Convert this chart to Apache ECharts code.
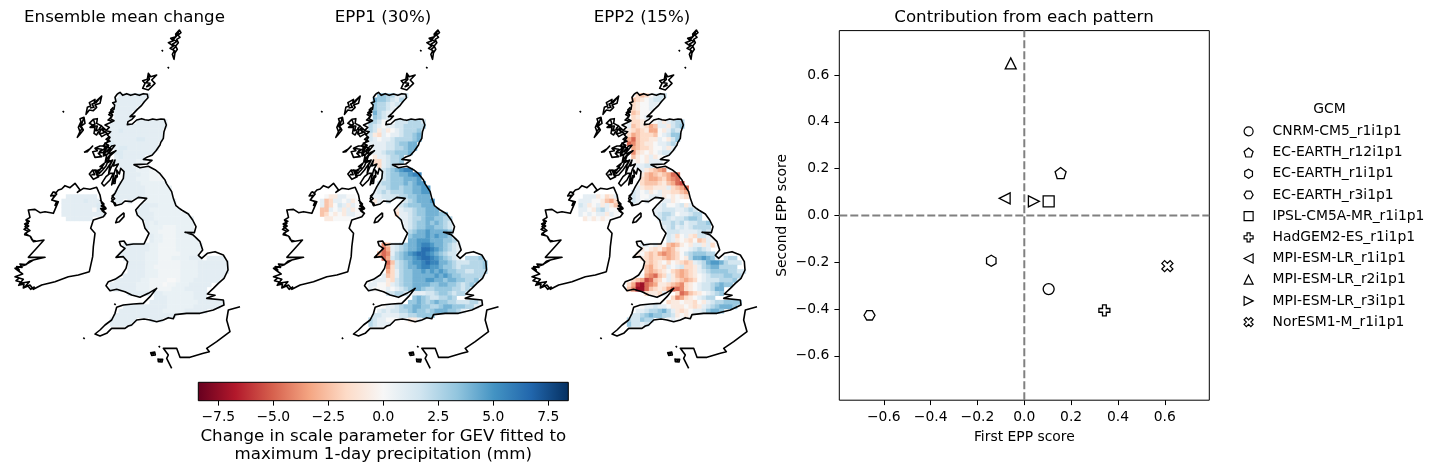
<!DOCTYPE html>
<html><head><meta charset="utf-8">
<script src="https://cdn.jsdelivr.net/npm/echarts@6/dist/echarts.min.js"></script>
<style>html,body{margin:0;padding:0;background:#fff}#c{width:1440px;height:472px}</style></head>
<body><div id="c"></div>
<script>
// ---- scatter data (first EPP score, second EPP score) ----
const gcmNames = ["CNRM-CM5_r1i1p1","EC-EARTH_r12i1p1","EC-EARTH_r1i1p1","EC-EARTH_r3i1p1","IPSL-CM5A-MR_r1i1p1","HadGEM2-ES_r1i1p1","MPI-ESM-LR_r1i1p1","MPI-ESM-LR_r2i1p1","MPI-ESM-LR_r3i1p1","NorESM1-M_r1i1p1"];
const firstScore  = [0.104,0.155,-0.141,-0.661,0.104,0.342,-0.084,-0.058,0.041,0.611];
const secondScore = [-0.315,0.181,-0.194,-0.427,0.06,-0.406,0.073,0.65,0.06,-0.217];
const scoreTicks = [-0.6,-0.4,-0.2,0,0.2,0.4,0.6];
const colorbarTicks = [-7.5,-5,-2.5,0,2.5,5,7.5];
const rdBu = ["#67001f","#b2182b","#d6604d","#f4a582","#fddbc7","#f7f7f7","#d1e5f0","#92c5de","#4393c3","#2166ac","#053061"];

// digits are positive, letters a.. are negative, in units of the map's step ----
const meanStep = 0.3, eppStep = 0.8;
const meanRows = [
"13:3333433","12:3333333","12:3333333","12:333332","12:33333","12:3333",
"11:3333333333333","11:3333333333333","11:3343333333333","10:33333333333333","11:3333334433333","10:3433333333332",
"12:34433333333","11:34433333333","12:343333333","12:3333322","12:33332","13:33332221",
"14:333322110","13:33332221111","13:33333222222","13:333333222222","12:3333333222222","1:3333333 12:33333332222222",
"0:333334333 12:33333332222222","0:333333334 12:3333 17:2333322222","0:3333333042 17:33322222222","0:3333333333 17:333322222222","1:333333 17:3333222222222","18:3323222222222",
"19:322211122222","19:322111122222","20:32211122222","20:32211122222","14:333333221111222222","14:333333221111222222",
"13:3333332221111122222","14:333332221112222333 33:3333","15:33332221111122223333333","15:33332211111122223333333","15:33332221111122223333333","14:333332221111122223333333",
"12:3333332211110012223333333","10:333333322211101122233333","10:33333332221111122233333","14:33333333 22:322222223333","17:333 21:333222222333","20:33332222222333333333",
"14:33333333332222223333333333","13:33333333332222233333","12:33333333333333322233","11:33333333333333","10:333333333333","10:333333","8:33333"];
const epp1Rows = [
"13:4433112","12:5443213","12:4332123","12:433212","12:53211","12:4321",
"11:3320012223332","11:3210112233333","11:32a1a01233343","10:22ab1011233453","11:2101123333454","10:a111122344555",
"12:11122334556","11:a1123344456","12:a11233445","12:bb12334","12:cb123","13:b2345677",
"14:234455677","13:22344455567","13:23344454566","13:223443445566","12:1232333445566","1:0aa1100 12:11222233445556",
"0:1cb1101a0 12:a1221222345556","0:1cb021a10 12:a111 17:1234445556","0:cc101a1a01 17:a1223445556","0:cb0a0a1100 17:b11234455544","1:aa0000 17:a112334554433","18:a123445454321",
"19:123445544321","19:234556555543","20:45556565543","20:55666555443","14:ec1234556776554321","14:fd1234556887654321",
"13:dfe1345678876543221","14:fd2345567887654321 33:3334","15:fc234566787755432223334","15:eb234556776654432333334","15:db134455656565443322333","14:1cb134455555656544333332",
"12:111ab234455566554554433423","10:11100a12344555544554432343","10:210001012345543344443323","14:12233221 22:11223443233","17:234 21:4543223343","20:44543454433222331000",
"14:01123445544334554443311000","13:1212233454434555443100","12:2211112233444433433","11:32110011baa1211223","10:432111b1a121","10:342101","8:32233"];
const epp2Rows = [
"13:bcb0122","12:cba0122","12:ba00112","12:ba0011","12:cb001","12:ba01",
"11:1bbaba01a1233","11:1cbabdc11a234","11:abcbadd0a1323","10:0bdcbbbc012443","11:dfcbbaa10a243","10:1fecbaa011232",
"12:dcbba001a12","11:ceba0a01221","12:ca0a1a011","12:0a0a111","12:01122","13:11abcde0",
"14:acdcbcdffg","13:0bcddcbdefgh","13:0bcccbacdfgf","13:1abbaaa1bcdf","12:2101a01aabbcd","1:111a0ba1 12:2100111a0a0ab",
"0:11100acdb 12:211101011a0","0:21a01a1ac 12:2110 17:1120012a1","0:110a23100 17:1122211232","0:101011a10 17:12332011233","1:a0a0a0 17:12321223443","18:1223231223342",
"19:123121233332","19:122211112321","20:21b01ab221","20:21a0ab0cb10","14:1101a0cdca0a11a1b0","14:a0abacdca0012321",
"13:a0bcbdedcb0234443322","14:abcbbcdcb0a3556541 33:233","15:bcba0b0abcb12356653222","15:cdbab1012bba134553333","15:cdcba0bcdcba12344443322","14:0defcb1acdcba0123334433",
"12:bcdgfcb01abcdcb01222333433","10:0bdhifedaabcdeba0122345443","10:1ceiifcbabdffeba0122355","14:cbaab10 22:bfecba012345","17:a01 21:bedba01233","20:baa0aab0a123344443222",
"14:0112110aaa0aba12345554322","13:112334531aba011245543","12:2234544332a0a01233","11:322433211010011","10:34221221100","10:342101","8:12101"];

// ---- coastlines, in map units (rows and columns of the map sheet) ----
const coastGB = [[352,222],[360,217],[368,226],[380,221],[392,226],[405,222],[418,226],[430,221],[442,223],[444,233],[433,245],[425,256],[412,268],[400,281],[390,290],[405,288],[396,298],[384,305],[382,314],[397,312],[410,300],[425,296],[435,299],[445,301],[458,297],[470,299],[483,297],[493,298],[499,315],[492,335],[491,345],[490,355],[482,368],[480,375],[468,392],[456,406],[442,411],[430,418],[456,421],[442,432],[420,433],[402,434],[420,443],[445,439],[465,449],[480,461],[495,480],[499,490],[505,495],[515,515],[520,535],[528,557],[538,565],[545,570],[565,582],[578,600],[588,620],[583,638],[555,637],[578,644],[587,652],[600,665],[608,690],[595,706],[605,715],[622,700],[645,695],[670,705],[682,725],[684,750],[672,775],[655,790],[640,805],[622,822],[645,826],[620,835],[670,840],[672,855],[640,870],[600,880],[560,880],[525,884],[520,896],[505,893],[490,900],[470,905],[450,900],[432,897],[410,900],[395,915],[385,918],[375,925],[350,925],[335,925],[320,940],[300,948],[285,942],[300,930],[315,915],[335,900],[345,880],[350,862],[370,855],[400,852],[430,850],[450,830],[470,805],[445,820],[420,832],[395,825],[375,815],[350,808],[330,812],[318,797],[325,785],[345,778],[365,765],[378,745],[383,725],[370,710],[348,712],[365,695],[375,685],[362,677],[358,665],[372,663],[380,675],[400,672],[432,672],[440,655],[447,640],[435,625],[428,600],[412,585],[407,570],[420,555],[440,535],[415,532],[395,545],[375,543],[365,552],[345,557],[335,535],[345,520],[355,500],[370,475],
[372,455],[362,445],[358,462],[350,450],[352,470],[342,480],[335,495],[340,470],[346,448],[355,432],[340,438],[345,420],[332,445],[326,460],[330,435],[338,420],[322,428],[330,408],[348,392],[335,398],[322,415],[316,425],[320,405],[332,392],[345,376],[335,378],[322,392],[310,398],[318,382],[308,378],[320,368],[330,352],[322,345],[332,335],[318,332],[328,322],[315,315],[330,308],[342,302],[330,295],[338,285],[328,278],[342,268],[336,262],[344,255],[338,248],[348,245],[345,232],[352,222]];
const coastIreland = [[160,515],[168,518],[175,510],[185,507],[195,497],[210,503],[225,490],[240,510],[232,517],[250,505],[270,508],[290,502],[300,525],[305,550],[318,565],[302,566],[318,580],[310,590],[280,600],[272,625],[285,640],[280,680],[278,710],[268,755],[235,765],[205,770],[165,785],[125,795],[100,808],[90,795],[75,800],[88,785],[60,790],[70,778],[45,770],[68,762],[45,745],[75,735],[100,720],[135,712],[85,712],[105,690],[132,660],[100,665],[92,650],[75,640],[90,632],[75,620],[85,610],[78,600],[90,592],[85,570],[105,568],[120,578],[135,575],[160,580],[175,545],[155,540],[170,522],[160,515]];
const coastFrance = [[720,860],[685,870],[680,900],[690,935],[650,965],[620,985],[628,995],[610,1000],[570,1012],[540,1012],[530,985],[490,985],[505,1005],[500,1015],[515,1045]];
const coastLewis = [[305,228],[300,250],[285,255],[290,262],[280,272],[268,270],[258,283],[262,262],[272,258],[268,248],[285,238],[282,250],[292,240],[305,228],[288,248],[276,252],[282,262],[270,264]];
const coastUist = [[252,292],[255,310],[243,318],[250,330],[238,345],[232,352],[240,335],[235,322],[243,305],[240,296],[252,292],[246,310],[240,318],[246,326],[238,336]];
const coastSkye = [[280,298],[292,296],[290,310],[305,318],[298,325],[322,340],[305,350],[295,335],[290,345],[282,340],[285,322],[270,322],[278,315],[268,310],[280,298],[285,312],[275,318],[292,318],[288,332],[302,328],[298,342],[312,338],[306,326],[318,330],[302,316]];
const coastMull = [[285,385],[300,378],[325,378],[315,392],[330,398],[310,408],[318,395],[295,400],[305,410],[285,412],[278,395],[292,392],[285,385],[305,388],[298,396],[315,385],[310,402],[322,392],[335,388],[322,380]];
const coastJura = [[325,420],[335,425],[318,450],[305,465],[292,468],[285,450],[298,452],[312,432],[300,440],[325,420],[318,438],[308,450],[298,460],[292,452],[310,442]];
const coastIslay = [[278,450],[290,452],[296,470],[280,478],[268,462],[278,450],[284,464],[274,464]];
const coastKintyre = [[330,460],[340,460],[330,480],[312,498],[305,490],[318,470],[330,460]];
const coastTiree = [[252,397],[272,385],[278,378],[262,395],[252,397]];
const coastArran = [[348,465],[354,468],[345,490],[338,490],[348,465]];
const coastMan = [[372,578],[372,590],[358,605],[347,608],[352,595],[372,578]];
const coastShetland = [[538,30],[543,38],[534,45],[540,52],[530,58],[535,68],[527,78],[532,88],[525,98],[522,118],[517,103],[523,92],[510,85],[520,78],[505,68],[520,62],[512,55],[528,50],[527,42],[538,30],[530,48],[520,58],[530,65],[518,72],[528,80],[518,88],[526,95]];
const coastOrkney = [[445,160],[452,170],[470,165],[455,180],[465,190],[445,210],[428,205],[435,190],[428,182],[442,178],[445,160],[448,178],[438,188],[450,190],[440,200],[452,195]];
const coastChannelIsles = [[452,998],[464,996],[466,1005],[455,1006],[452,998],[462,1002]];
const coastJersey = [[474,1017],[488,1018],[486,1026],[475,1025],[474,1017],[484,1022]];
const inletsKerry = [[45,770],[58,774],[48,782],[62,786],[56,796],[72,792],[70,804],[84,798],[92,808],[104,800]];
const inletsMayo = [[78,600],[88,604],[74,612],[86,618],[72,628],[84,634],[74,644],[90,648],[96,660],[108,664]];
const inletsClare = [[45,745],[58,750],[50,740],[66,742],[60,732],[78,734],[88,724],[100,720]];
const inletsDonegal = [[160,515],[152,528],[164,526],[156,540],[170,545],[165,556],[174,548]];
const inletsAntrim = [[300,540],[312,552],[304,558],[318,566],[306,572],[318,582]];
const inletsSutherland = [[340,262],[332,270],[340,276],[326,284],[336,290],[324,300],[336,304]];
const inletsLochaber = [[328,350],[318,358],[330,364],[314,370],[326,376],[312,384]];
const inletsGalloway = [[345,520],[336,528],[344,536],[334,544],[346,550],[352,545],[348,558]];
const coastSpecks = [[190,275],[487,92],[505,143],[252,955],[345,853],[478,980]];
const coastlines = [coastGB,coastIreland,coastFrance,coastLewis,coastUist,coastSkye,coastMull,coastJura,coastIslay,coastKintyre,coastTiree,coastArran,coastMan,coastShetland,coastOrkney,coastChannelIsles,coastJersey,inletsKerry,inletsMayo,inletsClare,inletsDonegal,inletsAntrim,inletsSutherland,inletsLochaber,inletsGalloway];

const FONT = "DejaVu Sans";
const minus = s => String(s).replace("-", "\u2212");
const CELL = 4.4, COLS = 38, ROWS = 55;
const X0 = 185, Y0 = 220, UNIT = 13.2;
const inside = (x,y,poly) => {
  let c = false;
  for (let i=0,j=poly.length-1;i<poly.length;j=i++) {
    const [xi,yi]=poly[i],[xj,yj]=poly[j];
    if ((yi>y)!==(yj>y) && x < (xj-xi)*(y-yi)/(yj-yi)+xi) c=!c;
  }
  return c;
};
const decode = (rows, step) => {
  const out = [];
  rows.forEach((row, r) => row.split(" ").forEach(seg => {
    const [col, codes] = seg.split(":");
    if (!codes) return;
    [...codes].forEach((ch, i) => {
      const c = +col + i;
      const ux = X0 + UNIT*(c+0.5), uy = Y0 + UNIT*(r+0.5);
      if (!inside(ux,uy,c<=10 ? coastIreland : coastGB)) return;
      const isDigit = ch >= "0" && ch <= "9";
      const v = isDigit ? +ch : -(ch.charCodeAt(0) - 96);
      out.push([c, r, v * step]);
    });
  }));
  return out;
};
const coastData = () => {
  const d = [];
  coastlines.forEach(p => { p.forEach(q => d.push(q)); d.push(["-","-"]); });
  coastSpecks.forEach(q => { d.push([q[0]-2,q[1]-2],[q[0]+2,q[1]-2],[q[0]+2,q[1]+2],[q[0]-2,q[1]+2],[q[0]-2,q[1]-2]); d.push(["-","-"]); });
  return d;
};

const mapLefts = [0, 258.5, 517];
const mapTitles = ["Ensemble mean change","EPP1 (30%)","EPP2 (15%)"];
const mapRows = [[meanRows,meanStep],[epp1Rows,eppStep],[epp2Rows,eppStep]];
const idx = n => Array.from({length:n},(_,i)=>i);

const grid=[], xAxis=[], yAxis=[], series=[], title=[];
const hidden = {show:false};
mapLefts.forEach((x0,m)=>{
  grid.push({left:x0+X0/3, top:20+Y0/3, width:COLS*CELL, height:ROWS*CELL});
  xAxis.push({type:"category",gridIndex:m,data:idx(COLS),...hidden});
  yAxis.push({type:"category",gridIndex:m,data:idx(ROWS),inverse:true,...hidden});
  series.push({type:"heatmap",xAxisIndex:m,yAxisIndex:m,data:decode(mapRows[m][0],mapRows[m][1]),silent:true,progressive:0,animation:false,emphasis:{disabled:true}});
});
mapLefts.forEach((x0,m)=>{
  const g=3+m;
  grid.push({left:x0, top:20, width:250, height:350});
  xAxis.push({type:"value",gridIndex:g,min:0,max:750,...hidden});
  yAxis.push({type:"value",gridIndex:g,min:0,max:1050,inverse:true,...hidden});
  series.push({type:"line",xAxisIndex:g,yAxisIndex:g,data:coastData(),showSymbol:false,symbol:"none",connectNulls:false,clip:false,silent:true,animation:false,z:5,
    lineStyle:{color:"#000",width:1.6,join:"round"}});
  title.push({text:mapTitles[m],left:[119.5,378,637][m],top:4,textAlign:"center",textStyle:{fontFamily:FONT,fontSize:16.67,fontWeight:"normal",color:"#000"}});
});
// colorbar
grid.push({left:198.3,top:382.3,width:370,height:18.4,show:true,borderColor:"#000",borderWidth:1,backgroundColor:"transparent",z:6});
xAxis.push({type:"value",gridIndex:6,min:-8.41,max:8.41,splitLine:{show:false},
  axisLine:{show:false,onZero:false},
  axisTick:{show:true,length:4.9,lineStyle:{color:"#000",width:1},customValues:colorbarTicks},
  axisLabel:{fontFamily:FONT,fontSize:13.89,color:"#000",margin:10,customValues:colorbarTicks,formatter:v=>minus((+v).toFixed(1))},
  name:"Change in scale parameter for GEV fitted to\nmaximum 1-day precipitation (mm)",nameLocation:"middle",nameGap:27,
  nameTextStyle:{fontFamily:FONT,fontSize:16.67,color:"#000",lineHeight:18,verticalAlign:"top"}});
yAxis.push({type:"value",gridIndex:6,min:0,max:1,show:false});
series.push({type:"custom",xAxisIndex:6,yAxisIndex:6,data:[[-8.41,8.41]],silent:true,animation:false,
  renderItem:(p,api)=>{
    const a=api.coord([api.value(0),1]), b=api.coord([api.value(1),0]);
    return {type:"rect",shape:{x:a[0],y:a[1],width:b[0]-a[0],height:b[1]-a[1]},
      style:{fill:new echarts.graphic.LinearGradient(0,0,1,0,rdBu.map((c,i)=>({offset:i/(rdBu.length-1),color:c})))}};
  }});
// scatter
const S = 7;
grid.push({left:839.3,top:30.6,width:370,height:369.6,show:true,borderColor:"#000",borderWidth:1,backgroundColor:"transparent"});
const scoreAxis = (name,gap)=>({type:"value",gridIndex:S,min:-0.79,max:0.79,splitLine:{show:false},
  axisLine:{show:false,onZero:false},
  axisTick:{show:true,length:4.9,lineStyle:{color:"#000",width:1},customValues:scoreTicks},
  axisLabel:{fontFamily:FONT,fontSize:13.89,color:"#000",margin:10,customValues:scoreTicks,formatter:v=>minus((+v).toFixed(1))},
  name,nameLocation:"middle",nameGap:gap,nameTextStyle:{fontFamily:FONT,fontSize:13.89,color:"#000"}});
xAxis.push(scoreAxis("First EPP score",30));
yAxis.push(scoreAxis("Second EPP score",49.5));
title.push({text:"Contribution from each pattern",left:1019,top:4,textAlign:"center",textStyle:{fontFamily:FONT,fontSize:16.67,fontWeight:"normal",color:"#000"}});
title.push({text:"GCM",left:1324.5,top:97,textAlign:"center",textStyle:{fontFamily:FONT,fontSize:13.89,fontWeight:"normal",color:"#000"}});
series.push({type:"line",xAxisIndex:S,yAxisIndex:S,data:[[0,-0.79],[0,0.79]],showSymbol:false,symbol:"none",silent:true,animation:false,z:3,lineStyle:{color:"#808080",width:2,type:[8,3]}});
series.push({type:"line",xAxisIndex:S,yAxisIndex:S,data:[[-0.79,0],[0.79,0]],showSymbol:false,symbol:"none",silent:true,animation:false,z:3,lineStyle:{color:"#808080",width:2,type:[8,3]}});
const markers = ["circle",
 "path://M50 0L100 38L81 100L19 100L0 38Z",
 "path://M50 0L93 25L93 75L50 100L7 75L7 25Z",
 "path://M0 50L25 7L75 7L100 50L75 93L25 93Z",
 "rect",
 "path://M33 0H67V33H100V67H67V100H33V67H0V33H33Z",
 "path://M0 50L100 0L100 100Z",
 "path://M50 0L100 100L0 100Z",
 "path://M100 50L0 0L0 100Z",
 "path://M25 0L50 25L75 0L100 25L75 50L100 75L75 100L50 75L25 100L0 75L25 50L0 25Z"];
gcmNames.forEach((n,i)=>{
  series.push({type:"scatter",name:n,xAxisIndex:S,yAxisIndex:S,data:[[firstScore[i],secondScore[i]]],symbol:markers[i],symbolKeepAspect:true,symbolSize:11,silent:true,animation:false,z:4,
    itemStyle:{color:"#fff",borderColor:"#000",borderWidth:1.3,opacity:1}});
});

const chart = echarts.init(document.getElementById("c"),null,{renderer:"canvas"});
chart.setOption({
  backgroundColor:"#fff",animation:false,grid,xAxis,yAxis,series,title,
  visualMap:{type:"continuous",show:false,min:-8.41,max:8.41,seriesIndex:[0,1,2],dimension:2,inRange:{color:rdBu}},
  legend:{data:gcmNames,orient:"vertical",left:1238.5,top:119.3,itemWidth:9,itemHeight:9,itemGap:7.2,selectedMode:false,
    itemStyle:{color:"#fff",borderColor:"#000",borderWidth:1.2},
    textStyle:{fontFamily:FONT,fontSize:13.89,color:"#000",lineHeight:14,padding:[0,0,0,14.5]}}
});
</script></body></html>
